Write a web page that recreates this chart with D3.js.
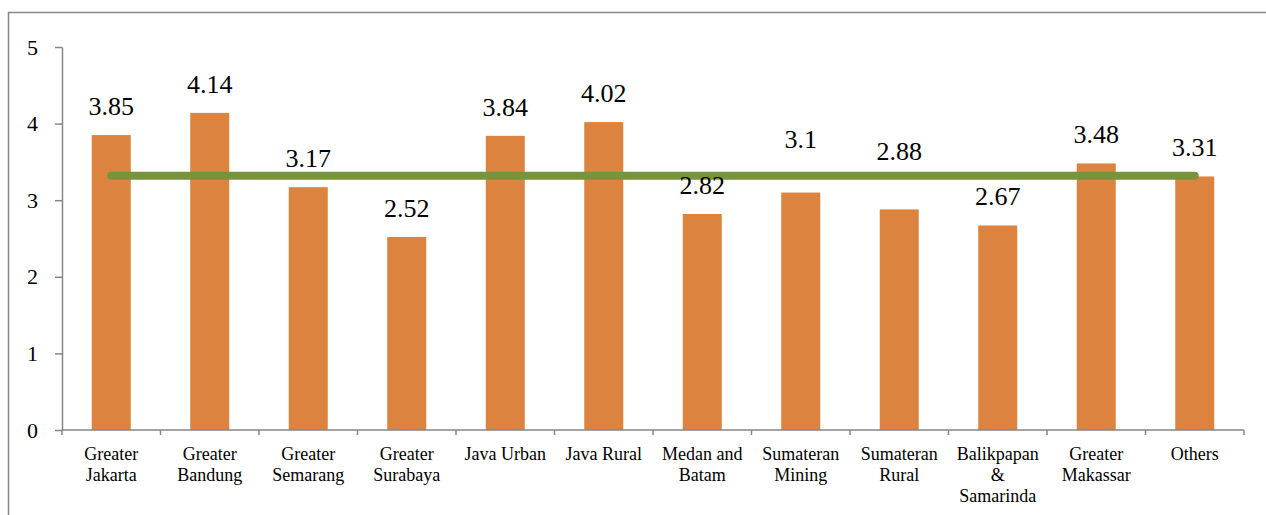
<!DOCTYPE html>
<html>
<head>
<meta charset="utf-8">
<script src="https://cdn.jsdelivr.net/npm/d3@7"></script>
<style>
  body { margin: 0; background: #fff; }
  svg text { font-family: 'Liberation Serif', 'Times New Roman', serif; fill: #000; }
</style>
</head>
<body>
<svg id="chart" width="1266" height="515"></svg>
<script>
// data
var categories = ["Greater Jakarta", "Greater Bandung", "Greater Semarang", "Greater Surabaya",
                  "Java Urban", "Java Rural", "Medan and Batam", "Sumateran Mining",
                  "Sumateran Rural", "Balikpapan & Samarinda", "Greater Makassar", "Others"];
var values  = [3.85, 4.14, 3.17, 2.52, 3.84, 4.02, 2.82, 3.1, 2.88, 2.67, 3.48, 3.31];
var average = [3.32, 3.32, 3.32, 3.32, 3.32, 3.32, 3.32, 3.32, 3.32, 3.32, 3.32, 3.32];
var yTicks  = [0, 1, 2, 3, 4, 5];

// labels that got dragged up off the line in the original (px)
var labelLift = [0, 0, 0, 0, 0, 0, 0, 25, 29, 0, 0, 0];

var svg = d3.select("#chart");
var margin = {left: 62, right: 22, top: 47, bottom: 85};
var W = 1266, H = 515;

// outer frame, right and bottom edges run off the picture
svg.append("path")
    .attr("d", "M8.5,515V12.5H1266")
    .attr("fill", "none")
    .attr("stroke", "#888")
    .attr("stroke-width", 1.5);

var x = d3.scaleBand()
    .domain(categories)
    .range([margin.left, W - margin.right]);

var y = d3.scaleLinear()
    .domain([0, 5])
    .range([H - margin.bottom, margin.top]);

// y axis
var yAxis = svg.append("g")
    .attr("transform", "translate(" + margin.left + ",0)")
    .call(d3.axisLeft(y).tickValues(yTicks).tickFormat(d3.format("d"))
        .tickSize(7).tickPadding(17).tickSizeOuter(0));
yAxis.attr("font-family", null);
yAxis.select(".domain").attr("stroke", "#868686").attr("stroke-width", 1.5);
yAxis.selectAll(".tick line").attr("stroke", "#868686").attr("stroke-width", 1.5);
yAxis.selectAll(".tick text").style("font-size", "22px").attr("fill", "#000");

// bars
var bw = 39;
svg.selectAll(".bar")
    .data(values)
    .enter()
    .append("rect")
    .attr("class", "bar")
    .attr("x", function(d, i){ return x(categories[i]) + x.bandwidth()/2 - bw/2; })
    .attr("y", function(d){ return y(d); })
    .attr("width", bw)
    .attr("height", function(d){ return y(0) - y(d); })
    .attr("fill", "#DC843F");

// x axis (ticks between categories)
var x0 = x.range()[0], x1 = x.range()[1], yb = y(0);
svg.append("line")
    .attr("x1", x0).attr("x2", x1)
    .attr("y1", yb).attr("y2", yb)
    .attr("stroke", "#868686").attr("stroke-width", 1.5);
var bounds = categories.map(function(c){ return x(c); }).concat([x1]);
svg.selectAll(".xtick")
    .data(bounds)
    .enter()
    .append("line")
    .attr("class", "xtick")
    .attr("x1", function(d){ return d; }).attr("x2", function(d){ return d; })
    .attr("y1", yb).attr("y2", yb + 5)
    .attr("stroke", "#868686").attr("stroke-width", 1.5);

// category labels, word wrapped to the band
var maxW = x.bandwidth() - 8;
var catLabels = svg.selectAll(".cat")
    .data(categories)
    .enter()
    .append("text")
    .attr("class", "cat")
    .attr("text-anchor", "middle")
    .attr("x", function(d){ return x(d) + x.bandwidth()/2; })
    .attr("y", yb + 30)
    .style("font-size", "18px");

catLabels.each(function(d){
    var t = d3.select(this);
    var words = d.split(" ");
    var lines = [], cur = "";
    var probe = t.append("tspan");
    words.forEach(function(w){
        var test = cur ? cur + " " + w : w;
        probe.text(test);
        if (probe.node().getComputedTextLength() > maxW && cur) {
            lines.push(cur);
            cur = w;
        } else {
            cur = test;
        }
    });
    lines.push(cur);
    probe.remove();
    var cx = t.attr("x");
    lines.forEach(function(l, i){
        t.append("tspan")
            .attr("x", cx)
            .attr("dy", i === 0 ? 0 : 21)
            .text(l);
    });
});

// average line
var line = d3.line()
    .x(function(d, i){ return x(categories[i]) + x.bandwidth()/2; })
    .y(function(d){ return y(d); });
svg.append("path")
    .datum(average)
    .attr("d", line)
    .attr("fill", "none")
    .attr("stroke", "#77933C")
    .attr("stroke-width", 8)
    .attr("stroke-linecap", "round");

// value labels
svg.selectAll(".val")
    .data(values)
    .enter()
    .append("text")
    .attr("class", "val")
    .attr("text-anchor", "middle")
    .attr("x", function(d, i){ return x(categories[i]) + x.bandwidth()/2; })
    .attr("y", function(d, i){ return y(d) - 20 - labelLift[i]; })
    .style("font-size", "26px")
    .text(function(d){ return d; });
</script>
</body>
</html>
